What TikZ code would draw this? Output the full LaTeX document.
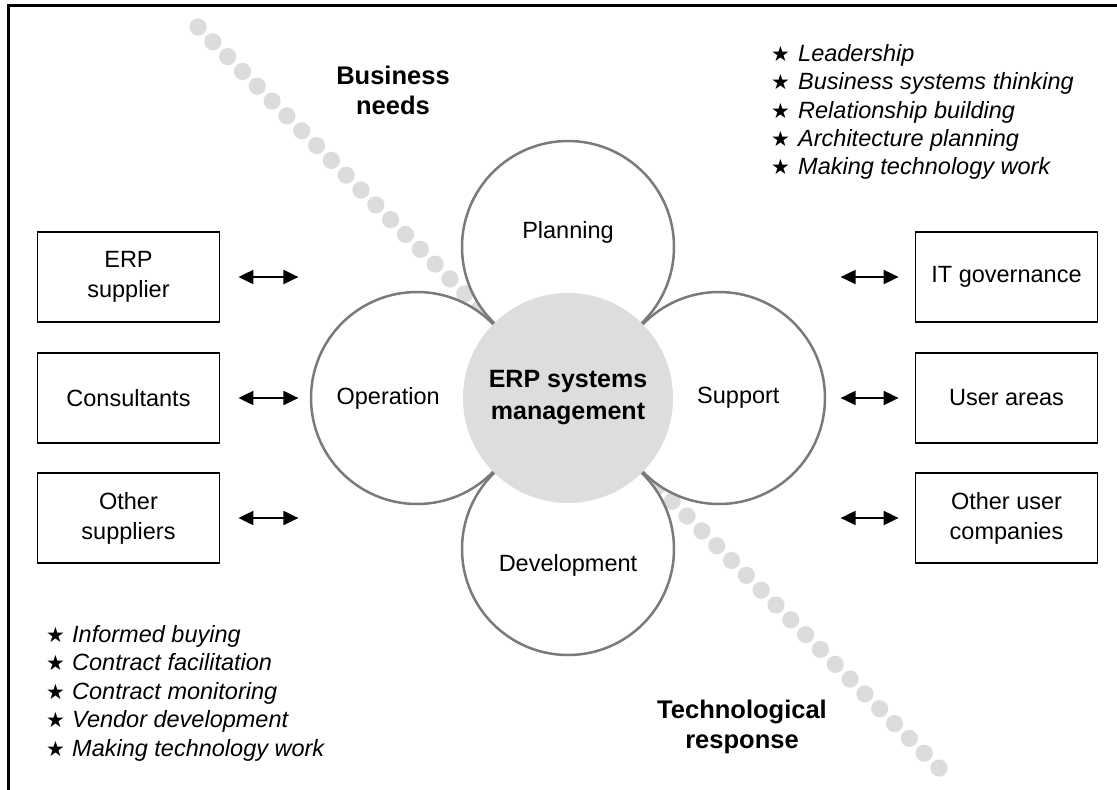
\documentclass[tikz,border=0pt]{standalone}
\usepackage{fontspec}
\setmainfont{Liberation Sans}
\newfontfamily\symfont{DejaVu Sans}
\usetikzlibrary{arrows.meta}
\definecolor{petalgray}{HTML}{7A7A7A}
\definecolor{coregray}{HTML}{DDDDDD}
\definecolor{dotgray}{HTML}{DCDCDC}
\begin{document}
\begin{tikzpicture}[x=1pt,y=-1pt,
  petal/.style={circle, draw=petalgray, line width=2.5pt, fill=white, minimum size=212pt, inner sep=0pt},
  core/.style={circle, fill=coregray, minimum size=210pt, inner sep=0pt, align=center,
    font=\bfseries\fontsize{25}{32}\selectfont},
  box/.style={draw=black, line width=1.8pt, minimum width=182pt, minimum height=90pt, inner sep=0pt,
    align=center, font=\fontsize{23.5}{30}\selectfont},
  dbl/.style={{Triangle[length=15pt,width=14pt]}-{Triangle[length=15pt,width=14pt]}, line width=2pt},
  lab/.style={inner sep=0pt, font=\fontsize{23.5}{28}\selectfont},
  heading/.style={align=center, inner sep=0pt, font=\bfseries\fontsize{25.5}{30}\selectfont},
  item/.style={anchor=base west, inner sep=0pt, font=\fontsize{23.5}{28}\selectfont},
  frame/.style={line width=2.5pt, draw=black}
]
\useasboundingbox (0,0) rectangle (1117,790);
\fill[white] (0,0) rectangle (1117,790);
% frame
\coordinate (fr1) at (1117,5.3);
\coordinate (fr2) at (8.3,5.3);
\coordinate (fr3) at (8.3,790);
\draw[frame] (fr1) -- (fr2) -- (fr3);
% dotted diagonal
\foreach \i in {0,...,50}
  \fill[dotgray] ({198+\i*14.82},{27+\i*14.82}) circle (8.6pt);
% petals
\node[petal] (plan) at (568,247) {};
\node[petal] (dev)  at (568,549) {};
\node[petal] (oper) at (417,398) {};
\node[petal] (supp) at (719,398) {};
\node[core] (core) at (568,398) {ERP systems\\management};
\node[lab] (planT) at ([yshift=15pt]plan.center) {Planning};
\node[lab] (devT) at ([yshift=-16pt]dev.center) {Development};
\node[lab, anchor=east] (operT) at ([xshift=23pt]oper.center) {Operation};
\node[lab, anchor=west] (suppT) at ([xshift=-22pt]supp.center) {Support};
% boxes
\node[box] (lb1) at (128.5,277) {ERP\\supplier};
\node[box] (lb2) at (128.5,398) {Consultants};
\node[box] (lb3) at (128.5,518) {Other\\suppliers};
\node[box] (rb1) at (1006.5,277) {IT governance};
\node[box] (rb2) at (1006.5,398) {User areas};
\node[box] (rb3) at (1006.5,518) {Other user\\companies};
% arrows
\foreach \b in {lb1,lb2,lb3}
  \draw[dbl] ([xshift=18pt]\b.east) -- ([xshift=78pt]\b.east);
\foreach \b in {rb1,rb2,rb3}
  \draw[dbl] ([xshift=-16pt]\b.west) -- ([xshift=-74pt]\b.west);
% headings
\node[heading] (bn) at (393,90) {Business\\needs};
\node[heading] (tr) at (742,727) {Technological\\response};
% lists
\foreach \t [count=\i from 0] in {Leadership, Business systems thinking, Relationship building, Architecture planning, Making technology work}
  \node[item] (t\i) at (771,{61.5+28.3*\i}) {\makebox[27pt][l]{\symfont\fontsize{21}{21}\selectfont ★}\textit{\t}};
\foreach \t [count=\i from 0] in {Informed buying, Contract facilitation, Contract monitoring, Vendor development, Making technology work}
  \node[item] (b\i) at (46,{642+28.6*\i}) {\makebox[26pt][l]{\symfont\fontsize{21}{21}\selectfont ★}\textit{\t}};
\end{tikzpicture}
\end{document}
